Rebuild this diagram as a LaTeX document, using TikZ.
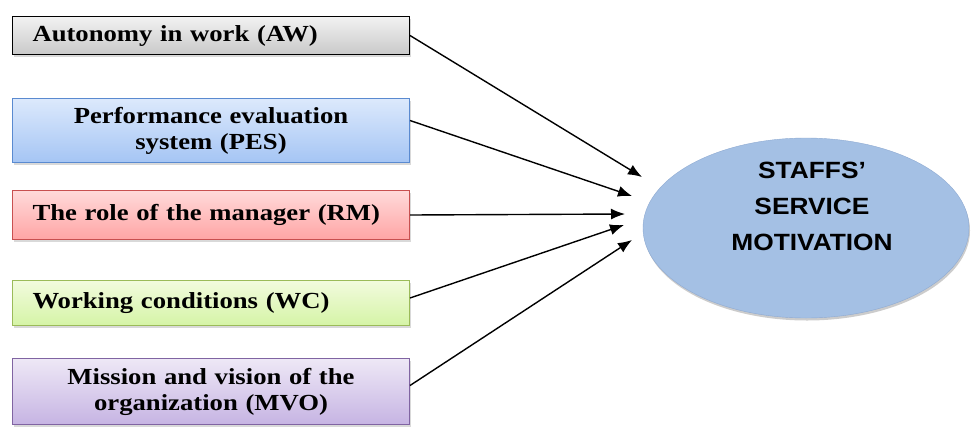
\documentclass[tikz,border=0pt]{standalone}
\usepackage{fontspec}
\usepackage{tikz}
\usetikzlibrary{arrows.meta,positioning,shapes.geometric,shadows}
\newfontfamily\boxfont[FakeStretch=1.16]{Liberation Serif}
\newfontfamily\ovalfont[FakeStretch=1.12]{Liberation Sans}
\definecolor{grisarriba}{HTML}{F2F2F2}
\definecolor{grisabajo}{HTML}{C9C9C9}
\definecolor{azularriba}{HTML}{DCE9FC}
\definecolor{azulabajo}{HTML}{A5C5F4}
\definecolor{azulborde}{HTML}{5A8AD0}
\definecolor{rojoarriba}{HTML}{FFDADA}
\definecolor{rojoabajo}{HTML}{FFA5A5}
\definecolor{rojoborde}{HTML}{C85050}
\definecolor{verdearriba}{HTML}{F2FBDE}
\definecolor{verdeabajo}{HTML}{D5F4A6}
\definecolor{verdeborde}{HTML}{9BBB59}
\definecolor{moradoarriba}{HTML}{EEE8F6}
\definecolor{moradoabajo}{HTML}{C6B4E3}
\definecolor{moradoborde}{HTML}{8064A2}
\definecolor{ovalo}{HTML}{A4C0E4}
\definecolor{ovaloborde}{HTML}{8EAAD2}

\begin{document}
\begin{tikzpicture}[
  x=1pt,y=-1pt,
  factor/.style={draw,line width=1pt,anchor=north west,minimum width=397pt,
              text width=357pt,inner xsep=20pt,inner ysep=0pt,
              font=\boxfont\bfseries\fontsize{23}{26}\selectfont,
              drop shadow={shadow xshift=1.5pt,shadow yshift=-2.5pt,opacity=0.3}},
  ar/.style={-{Latex[length=14pt,width=11pt]},line width=1.4pt}
]
\useasboundingbox (0,0) rectangle (971,426);

\node[factor,align=left,minimum height=38pt,top color=grisarriba,
      bottom color=grisabajo,draw=black] (aw) at (12,16) {Autonomy in work (AW)};
\node[factor,align=center,minimum height=64pt,top color=azularriba,
      bottom color=azulabajo,draw=azulborde] (pes) at (12,98)
      {Performance evaluation\\system (PES)};
\node[factor,align=left,minimum height=49pt,top color=rojoarriba,
      bottom color=rojoabajo,draw=rojoborde] (rm) at (12,190)
      {The role of the manager (RM)};
\node[factor,align=left,minimum height=45pt,top color=verdearriba,
      bottom color=verdeabajo,draw=verdeborde] (wc) at (12,280)
      {Working conditions (WC)};
\node[factor,align=center,minimum height=66pt,top color=moradoarriba,
      bottom color=moradoabajo,draw=moradoborde] (mvo) at (12,358)
      {Mission and vision of the\\organization (MVO)};

\node[ellipse,draw=ovaloborde,fill=ovalo,minimum width=326pt,minimum height=180pt,
      inner sep=0pt,
      drop shadow={shadow xshift=1pt,shadow yshift=-2.5pt,opacity=0.4}] (ssm) at (806,228) {};
\node[align=center,font=\ovalfont\bfseries\fontsize{23.5}{36}\selectfont]
      (ssmtext) at ([xshift=6pt,yshift=22pt]ssm.center) {STAFFS’\\SERVICE\\MOTIVATION};

% puntas de las flechas
\coordinate (t1) at (642,177);
\coordinate (t2) at (632,196);
\coordinate (t3) at (625,214);
\coordinate (t4) at (624,225);
\coordinate (t5) at (632,240);

\draw[ar] (aw.east) -- (t1);
\draw[ar] ([yshift=10pt]pes.east) -- (t2);
\draw[ar] (rm.east) -- (t3);
\draw[ar] ([yshift=5pt]wc.east) -- (t4);
\draw[ar] ([yshift=6pt]mvo.east) -- (t5);
\end{tikzpicture}
\end{document}
